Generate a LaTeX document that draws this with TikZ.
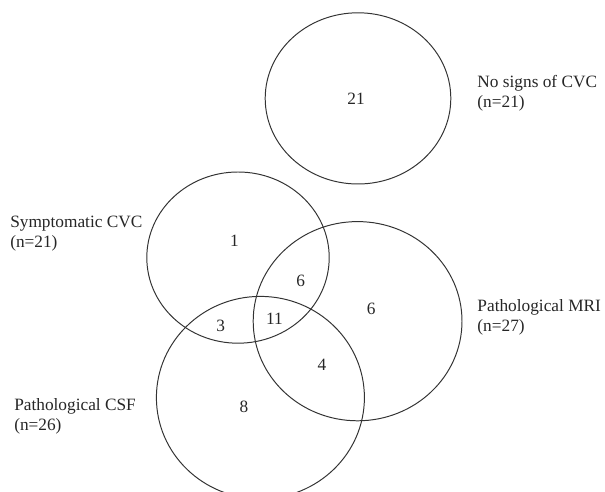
\documentclass[tikz,border=0pt]{standalone}
\usepackage{fontspec}
\setmainfont{Liberation Serif}
\usepackage{tikz}
\usetikzlibrary{positioning}

\tikzset{
  set/.style={line width=0.7pt, black!80},
  cnt/.style={inner sep=0pt, text=black!85},
  lab/.style={inner sep=0pt, anchor=west, align=left, text=black!85}
}

\begin{document}
\begin{tikzpicture}[font=\fontsize{12.3}{14.2}\selectfont]
  \useasboundingbox (0,0) rectangle (15.125,12.3);

  % sets
  \draw[set] (8.95,9.84) ellipse [x radius=2.32, y radius=2.14];  % no signs
  \draw[set] (5.95,5.86) ellipse [x radius=2.28, y radius=2.14];  % symptomatic
  \draw[set] (8.94,4.27) ellipse [x radius=2.61, y radius=2.49];  % MRI
  \draw[set] (6.51,2.36) ellipse [x radius=2.60, y radius=2.53];  % CSF

  % set labels
  \node[lab] (lnone) at (11.93,9.97) {No signs of CVC\\(n=21)};
  \node[lab] (lsym)  at (0.25,6.45)  {Symptomatic CVC\\(n=21)};
  \node[lab] (lmri)  at (11.93,4.36) {Pathological MRI\\(n=27)};
  \node[lab] (lcsf)  at (0.35,1.88)  {Pathological CSF\\(n=26)};

  % counts
  \node[cnt] (cnone)   at (8.90,9.84) {21};
  \node[cnt] (csym)    at (5.86,6.28) {1};
  \node[cnt] (csymmri) at (7.52,5.28) {6};
  \node[cnt] (call)    at (6.86,4.32) {11};
  \node[cnt] (csymcsf) at (5.52,4.15) {3};
  \node[cnt] (cmri)    at (9.28,4.58) {6};
  \node[cnt] (cmricsf) at (8.05,3.19) {4};
  \node[cnt] (ccsf)    at (6.10,2.12) {8};
\end{tikzpicture}
\end{document}
